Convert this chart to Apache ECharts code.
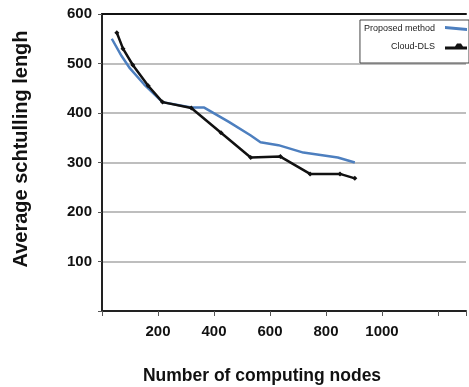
<!DOCTYPE html>
<html>
<head>
<meta charset="utf-8">
<script src="https://cdn.jsdelivr.net/npm/echarts@6/dist/echarts.min.js"></script>
<style>
  html, body { margin: 0; padding: 0; background: #fff; }
  #chart { width: 469px; height: 387px; }
</style>
</head>
<body>
<div id="chart"></div>
<script>
// values: [nodes, length]
const proposed = [[35, 550], [70, 515], [100, 490], [150, 458], [216, 422], [319, 411], [365, 411],
  [453, 382], [530, 355], [566, 341], [630, 335], [719, 320], [842, 310], [903, 300]];
const cloudDls = [[53, 562], [75, 530], [110, 497], [165, 455], [216, 422], [319, 410], [425, 360],
  [531, 310], [637, 312], [743, 277], [850, 277], [903, 268]];
const seriesNames = ['Proposed method', 'Cloud-DLS'];
const xLabels = ['200', '400', '600', '800', '1000'];

const chart = echarts.init(document.getElementById('chart'));
const font = 'Liberation Sans, Arial';
const bold = { fontFamily: font, fontWeight: 'bold', color: '#111' };

chart.setOption({
  animation: false,
  grid: { left: 102, right: 0, top: 14, bottom: 76 },
  legend: {
    orient: 'vertical',
    right: 0,
    top: 20,
    align: 'right',
    padding: [4, 2, 12, 4],
    itemGap: 9,
    itemWidth: 22,
    itemHeight: 10,
    borderColor: '#444',
    borderWidth: 1,
    textStyle: { fontSize: 9, fontFamily: font, color: '#222', width: 67, align: 'right', padding: [0, 5, 0, 0] },
    data: seriesNames.map(n => ({
      name: n,
      icon: n === 'Cloud-DLS'
        ? 'path://M0,4 L10,4 L12,1 L16,1 L18,4 L22,4 L22,7 L0,7 Z'
        : 'path://M0,2 L22,4 L22,7 L0,5 Z'
    }))
  },
  xAxis: [{
    type: 'value',
    min: 0,
    max: 1300,
    interval: 200,
    axisLine: { show: true, lineStyle: { color: '#222', width: 2 } },
    axisTick: { show: true, length: 5, lineStyle: { color: '#555', width: 1 } },
    axisLabel: Object.assign({ fontSize: 15, margin: 13, formatter: v => xLabels.includes(String(v)) ? v : '' }, bold),
    splitLine: { show: false }
  }, {
    type: 'value',
    position: 'top',
    min: 0,
    max: 1300,
    axisLine: { show: true, lineStyle: { color: '#111', width: 2 } },
    axisTick: { show: false },
    axisLabel: { show: false },
    splitLine: { show: false }
  }],
  yAxis: {
    type: 'value',
    min: 0,
    max: 600,
    interval: 100,
    axisLine: { show: true, lineStyle: { color: '#222', width: 2 } },
    axisTick: { show: true, inside: false, length: 4, lineStyle: { color: '#555' } },
    axisLabel: Object.assign({ fontSize: 15, margin: 10, formatter: v => v === 0 ? '' : v }, bold),
    splitLine: { show: true, lineStyle: { color: '#a8a8a8', width: 1.5 } }
  },
  graphic: [{
    type: 'text',
    x: 262,
    y: 376,
    style: { text: 'Number of computing nodes', fontSize: 17.5, fill: '#111', fontFamily: font,
      fontWeight: 'bold', align: 'center', verticalAlign: 'middle' }
  }, {
    type: 'text',
    x: 21,
    y: 149,
    rotation: Math.PI / 2,
    style: { text: 'Average schtulling lengh', fontSize: 20, fill: '#111', fontFamily: font,
      fontWeight: 'bold', align: 'center', verticalAlign: 'middle' }
  }],
  series: [{
    name: seriesNames[0],
    type: 'line',
    data: proposed,
    symbol: 'none',
    lineStyle: { color: '#4d7fbf', width: 2.5 },
    itemStyle: { color: '#4d7fbf' }
  }, {
    name: seriesNames[1],
    type: 'line',
    data: cloudDls,
    symbol: 'diamond',
    symbolSize: 5,
    lineStyle: { color: '#111', width: 2.5 },
    itemStyle: { color: '#111' }
  }]
});
</script>
</body>
</html>
